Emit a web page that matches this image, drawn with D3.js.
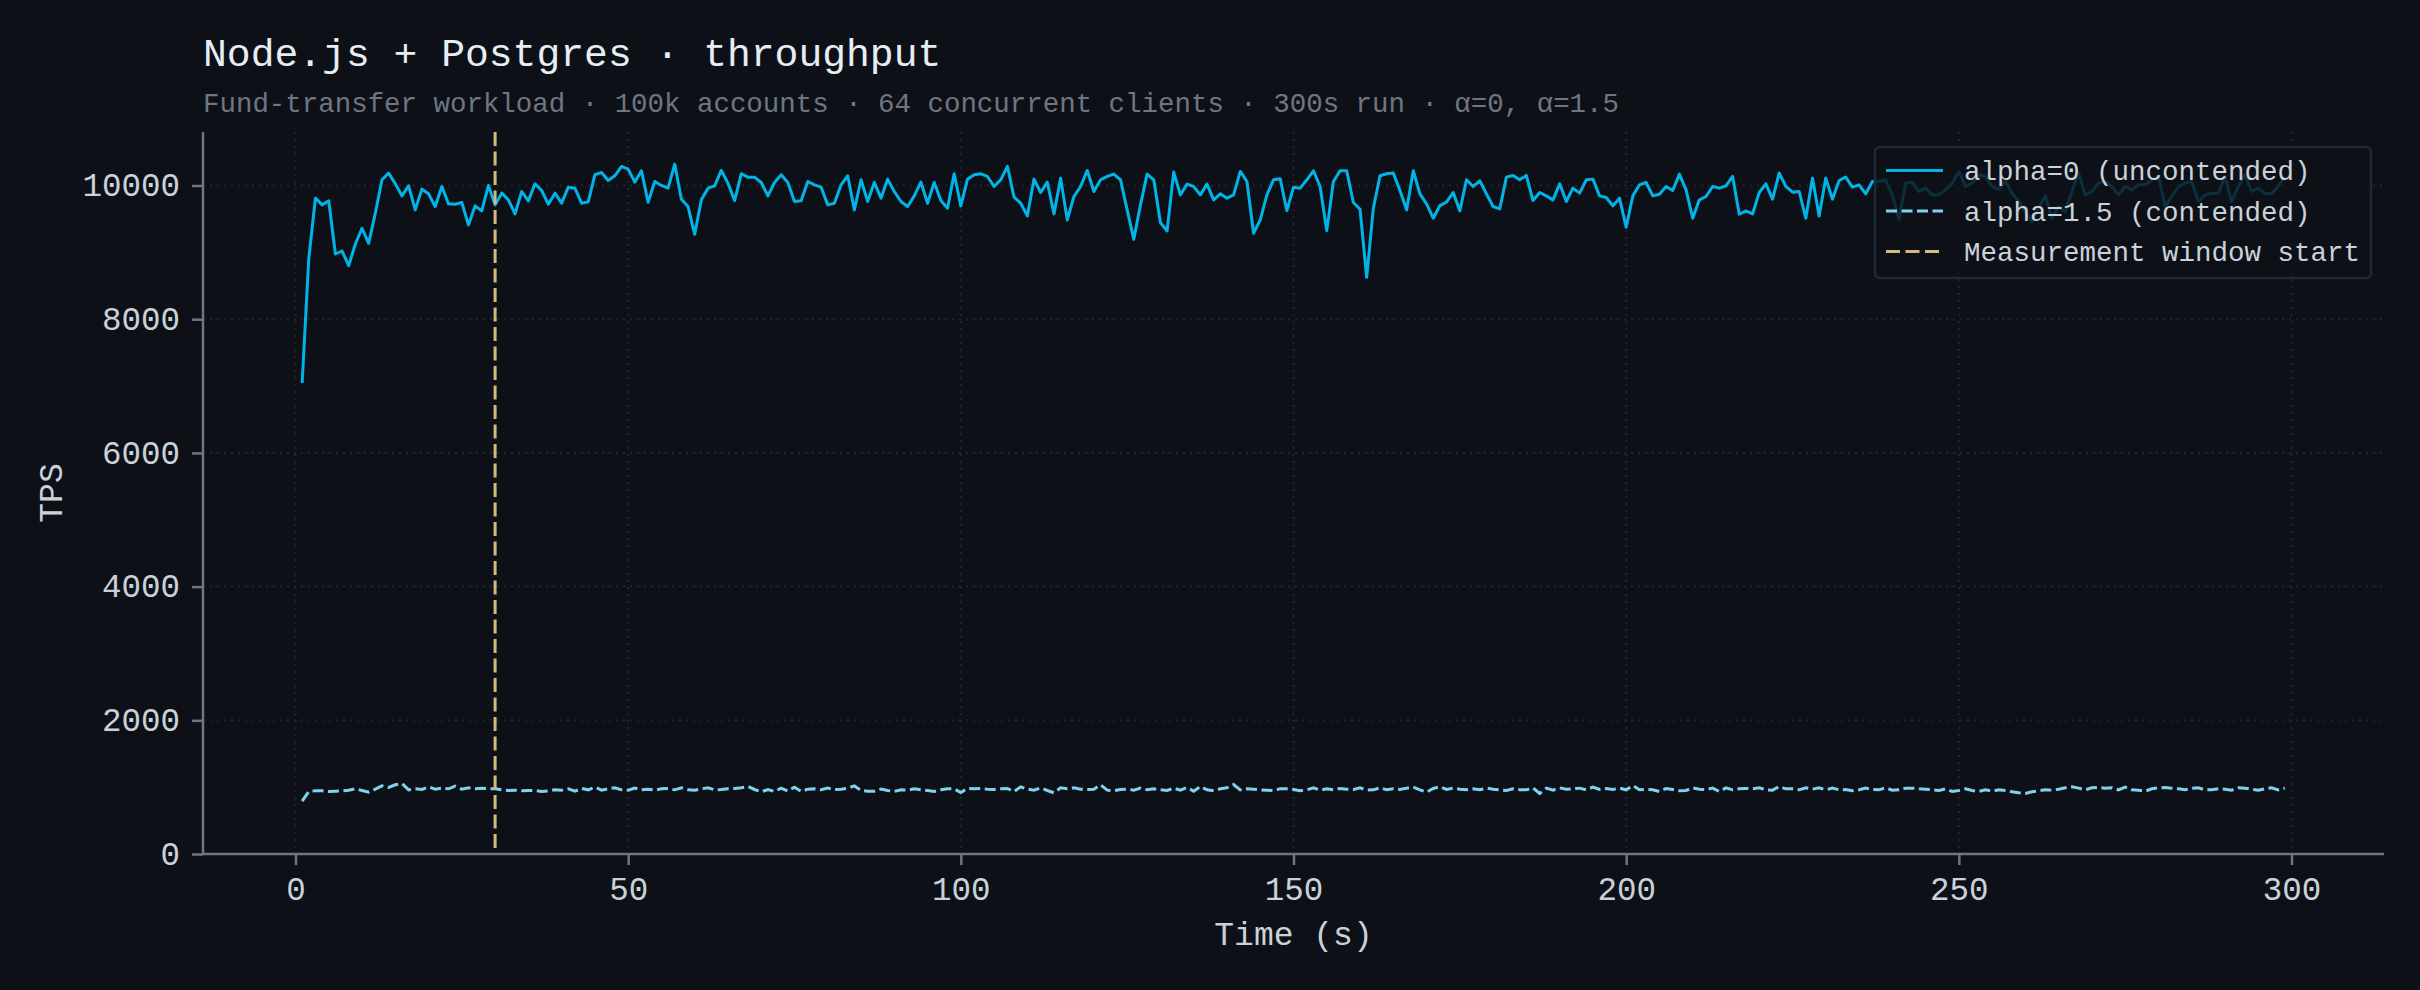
<!DOCTYPE html>
<html>
<head>
<meta charset="utf-8">
<script src="https://cdn.jsdelivr.net/npm/d3@7"></script>
<style>
  body { margin: 0; background: #0d1117; }
  svg { display: block; font-family: "Liberation Mono", "DejaVu Sans Mono", monospace; }
</style>
</head>
<body>
<svg width="2420" height="990"></svg>
<script>
// seconds since run start (1 sample per second)
const seconds = d3.range(1, 300);

// alpha=0, uncontended TPS
const tpsUncontended = [
  7045, 8910, 9810, 9710, 9770, 8975, 9020, 8800, 9125, 9360,
  9135, 9585, 10085, 10185, 10025, 9845, 9995, 9635, 9945, 9875,
  9685, 9985, 9725, 9720, 9745, 9410, 9695, 9620, 10000, 9710,
  9885, 9785, 9575, 9910, 9770, 10025, 9925, 9720, 9885, 9735,
  9975, 9960, 9735, 9755, 10160, 10195, 10075, 10145, 10285, 10245,
  10050, 10220, 9750, 10060, 10000, 9960, 10320, 9795, 9685, 9270,
  9785, 9960, 9995, 10225, 10035, 9775, 10175, 10125, 10125, 10045,
  9845, 10045, 10160, 10045, 9760, 9770, 10060, 10010, 9975, 9710,
  9735, 10010, 10145, 9635, 10085, 9760, 10045, 9810, 10095, 9910,
  9760, 9685, 9845, 10050, 9735, 10045, 9775, 9660, 10175, 9695,
  10095, 10160, 10175, 10135, 9985, 10085, 10285, 9825, 9735, 9545,
  10095, 9895, 10050, 9575, 10110, 9485, 9835, 9985, 10225, 9910,
  10085, 10135, 10170, 10085, 9635, 9195, 9710, 10170, 10085, 9445,
  9320, 10200, 9860, 10020, 9985, 9860, 10020, 9785, 9875, 9810,
  9860, 10210, 10060, 9285, 9485, 9860, 10085, 10100, 9625, 9975,
  9960, 10085, 10220, 9985, 9325, 10060, 10220, 10220, 9745, 9645,
  8625, 9660, 10145, 10175, 10185, 9925, 9635, 10220, 9875, 9725,
  9510, 9700, 9750, 9895, 9620, 10085, 9985, 10070, 9875, 9685,
  9650, 10125, 10150, 10085, 10150, 9775, 9895, 9845, 9785, 10025,
  9760, 9960, 9885, 10085, 10095, 9845, 9820, 9695, 9810, 9375,
  9845, 10010, 10045, 9845, 9870, 9985, 9925, 10170, 9935, 9510,
  9785, 9835, 9985, 9960, 9995, 10135, 9570, 9620, 9575, 9895,
  10025, 9795, 10185, 9985, 9900, 9910, 9510, 10110, 9545, 10110,
  9795, 10075, 10125, 9975, 10010, 9875, 10060, 10060, 10085, 9860,
  9485, 10035, 10050, 9910, 9960, 9860, 9860, 9935, 10035, 10210,
  9985, 10035, 10160, 10135, 9985, 9945, 10060, 9885, 9760, 9610,
  9460, 9660, 9845, 9505, 9685, 9610, 9910, 10185, 9860, 9910,
  10035, 10060, 9985, 9860, 9985, 9935, 10010, 10010, 10085, 10145,
  9685, 9835, 9985, 10035, 10060, 9760, 9860, 9885, 9885, 10135,
  9760, 9985, 10160, 9910, 9960, 9885, 9875, 9985, 10135
];

// alpha=1.5, contended TPS
const tpsContended = [
  790, 935, 945, 945, 935, 940, 945, 955, 975, 950,
  925, 970, 1020, 995, 1035, 1055, 960, 975, 965, 1005,
  970, 985, 975, 1015, 970, 990, 975, 985, 975, 975,
  960, 950, 955, 945, 950, 950, 935, 945, 960, 955,
  975, 940, 980, 960, 1000, 955, 975, 990, 960, 955,
  985, 960, 970, 955, 975, 980, 960, 990, 960, 955,
  975, 990, 960, 965, 975, 980, 990, 1010, 965, 930,
  965, 935, 985, 940, 1000, 935, 970, 975, 960, 985,
  965, 970, 985, 1020, 950, 940, 940, 970, 950, 935,
  960, 955, 975, 960, 950, 935, 960, 975, 975, 920,
  980, 975, 980, 970, 965, 975, 980, 935, 1005, 970,
  955, 990, 950, 915, 990, 975, 990, 970, 965, 970,
  1035, 955, 945, 965, 970, 955, 985, 960, 975, 960,
  950, 985, 955, 995, 940, 1010, 960, 945, 975, 990,
  1040, 960, 975, 970, 960, 955, 950, 975, 975, 965,
  945, 960, 990, 955, 975, 960, 980, 970, 965, 990,
  955, 960, 990, 960, 975, 965, 985, 1000, 960, 925,
  980, 1005, 965, 985, 970, 960, 975, 960, 985, 970,
  960, 950, 975, 960, 960, 990, 905, 985, 955, 990,
  970, 975, 985, 960, 1000, 965, 980, 965, 985, 960,
  1025, 960, 965, 960, 935, 980, 965, 945, 950, 990,
  970, 965, 985, 935, 990, 960, 975, 980, 975, 990,
  960, 955, 1010, 975, 975, 960, 990, 970, 990, 960,
  985, 960, 965, 945, 960, 985, 965, 960, 990, 955,
  960, 985, 985, 975, 970, 960, 950, 975, 935, 950,
  975, 950, 935, 960, 940, 960, 950, 930, 915, 905,
  930, 945, 960, 955, 970, 990, 1005, 985, 960, 990,
  995, 985, 990, 960, 1000, 960, 955, 940, 975, 990,
  995, 985, 975, 960, 985, 990, 960, 960, 975, 970,
  955, 990, 985, 970, 955, 975, 990, 960, 985
];

const xTicks = [0, 50, 100, 150, 200, 250, 300];
const yTicks = [0, 2000, 4000, 6000, 8000, 10000];
const measurementStart = 30;

const legendItems = [
  { label: "alpha=0 (uncontended)", color: "#00b4e8", dash: null },
  { label: "alpha=1.5 (contended)", color: "#7dd3f0", dash: "11,4.5" },
  { label: "Measurement window start", color: "#d6b87c", dash: "14,5.5" },
];

const svg = d3.select("svg");
const margin = { left: 203, right: 36, top: 132, bottom: 136 };
const width = 2420, height = 990;

const x = d3.scaleLinear().domain([-13.9, 313.9]).range([margin.left, width - margin.right]);
const y = d3.scaleLinear().domain([0, 10800]).range([height - margin.bottom, margin.top]);

// grid
const grid = svg.append("g").attr("class", "grid");
grid.selectAll("line.gx")
  .data(xTicks)
  .join("line")
  .attr("class", "gx")
  .attr("x1", (d) => x(d)).attr("x2", (d) => x(d))
  .attr("y1", y.range()[1]).attr("y2", y.range()[0])
  .style("stroke", "#1f262e").style("stroke-width", 2).style("stroke-dasharray", "2,5");
grid.selectAll("line.gy")
  .data(yTicks)
  .join("line")
  .attr("class", "gy")
  .attr("x1", x.range()[0]).attr("x2", x.range()[1])
  .attr("y1", (d) => y(d)).attr("y2", (d) => y(d))
  .style("stroke", "#1f262e").style("stroke-width", 2).style("stroke-dasharray", "2,5");

// series
const line = (vals) => d3.line().x((d, i) => x(seconds[i])).y((d) => y(d))(vals);

svg.append("path")
  .attr("d", line(tpsUncontended))
  .style("fill", "none")
  .style("stroke", legendItems[0].color)
  .style("stroke-width", 3)
  .style("stroke-linejoin", "round");

svg.append("path")
  .attr("d", line(tpsContended))
  .style("fill", "none")
  .style("stroke", legendItems[1].color)
  .style("stroke-width", 3)
  .style("stroke-dasharray", legendItems[1].dash);

svg.append("line")
  .attr("x1", x(measurementStart)).attr("x2", x(measurementStart))
  .attr("y1", y.range()[1]).attr("y2", y.range()[0])
  .style("stroke", legendItems[2].color)
  .style("stroke-width", 3)
  .style("stroke-dasharray", legendItems[2].dash);

// axes
const xAxis = d3.axisBottom(x).tickValues(xTicks).tickSize(11).tickPadding(12);
const yAxis = d3.axisLeft(y).tickValues(yTicks).tickSize(11).tickPadding(12).tickFormat(d3.format("d"));

const gx = svg.append("g").attr("transform", `translate(0,${y(0)})`).call(xAxis);
const gy = svg.append("g").attr("transform", `translate(${margin.left},0)`).call(yAxis);

[gx, gy].forEach((g) => {
  g.select(".domain").style("stroke", "#6e7681").style("stroke-width", 2.5);
  g.selectAll(".tick line").style("stroke", "#6e7681").style("stroke-width", 2.5);
  g.selectAll(".tick text")
    .style("fill", "#c9d1d9")
    .style("font-size", "32.5px")
    .style("font-family", '"Liberation Mono", "DejaVu Sans Mono", monospace');
});
gx.select(".domain").attr("d", `M${x.range()[0]},0H${x.range()[1]}`);
gy.select(".domain").attr("d", `M0,${y.range()[0]}V${y.range()[1]}`);

// axis labels
svg.append("text")
  .attr("x", (x.range()[0] + x.range()[1]) / 2)
  .attr("y", 945)
  .attr("text-anchor", "middle")
  .style("fill", "#c9d1d9")
  .style("font-size", "33px")
  .text("Time (s)");

svg.append("text")
  .attr("transform", `translate(62,${(y.range()[0] + y.range()[1]) / 2}) rotate(-90)`)
  .attr("text-anchor", "middle")
  .style("fill", "#c9d1d9")
  .style("font-size", "33px")
  .text("TPS");

// titles
svg.append("text")
  .attr("x", margin.left)
  .attr("y", 66)
  .style("fill", "#e6edf3")
  .style("font-size", "39.7px")
  .text("Node.js + Postgres · throughput");

svg.append("text")
  .attr("x", margin.left)
  .attr("y", 112)
  .style("fill", "#6e7681")
  .style("font-size", "27.45px")
  .text("Fund-transfer workload · 100k accounts · 64 concurrent clients · 300s run · α=0, α=1.5");

// legend
const legend = svg.append("g").attr("transform", "translate(1875,147)");
legend.append("rect")
  .attr("width", 496)
  .attr("height", 131)
  .attr("rx", 5)
  .style("fill", "#0d1117")
  .style("fill-opacity", 0.82)
  .style("stroke", "#1c2b35")
  .style("stroke-width", 2.5);

const rows = legend.selectAll("g.row")
  .data(legendItems)
  .join("g")
  .attr("class", "row")
  .attr("transform", (d, i) => `translate(0,${23.5 + i * 40.5})`);

rows.append("line")
  .attr("x1", 11).attr("x2", 68)
  .style("stroke", (d) => d.color)
  .style("stroke-width", 3)
  .style("stroke-dasharray", (d) => d.dash);

rows.append("text")
  .attr("x", 89)
  .attr("dy", "0.35em")
  .style("fill", "#c9d1d9")
  .style("font-size", "27.5px")
  .text((d) => d.label);
</script>
</body>
</html>
